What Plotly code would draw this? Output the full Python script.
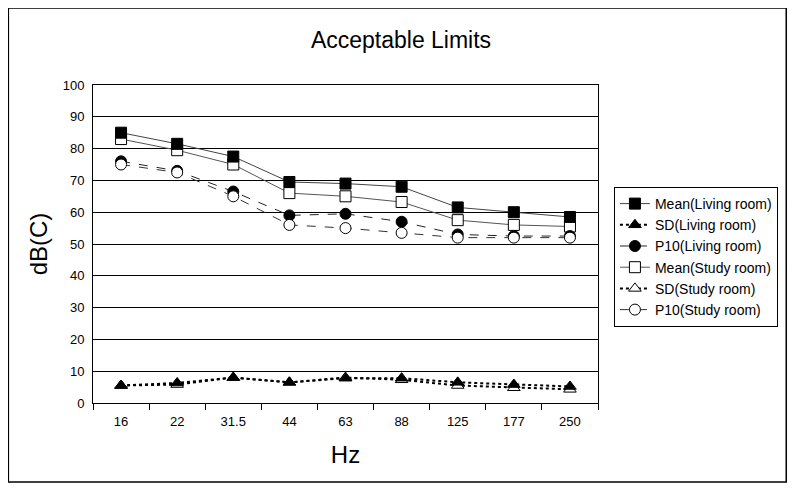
import plotly.graph_objects as go

hz = ["16", "22", "31.5", "44", "63", "88", "125", "177", "250"]

mean_living = [85, 81.5, 77.5, 69.5, 69, 68, 61.5, 60, 58.5]
sd_living = [5.5, 6.3, 8, 6.5, 7.8, 7.8, 6.5, 5.8, 5.2]
p10_living = [76, 73, 66.5, 59, 59.5, 57, 53, 52.5, 52.5]
mean_study = [83, 79.5, 75, 66, 65, 63.2, 57.5, 56, 55.5]
sd_study = [5.5, 5.8, 8, 6.5, 8, 7.3, 5.5, 4.8, 4.3]
p10_study = [75, 72.5, 65, 56, 55, 53.5, 52, 52, 52]

fig = go.Figure()

def add(name, y, dash, sym, fill, rank, color="black", lw=1):
    fig.add_trace(go.Scatter(
        x=hz, y=y, name=name, mode="lines+markers", legendrank=rank,
        line=dict(color=color, width=lw, dash=dash),
        marker=dict(symbol=sym, size=11, color=fill,
                    line=dict(color="black", width=1)),
    ))

# drawing order follows the overlaps in the original; legend order via legendrank
add("Mean(Study room)", mean_study, "solid", "square", "white", 4, "#555")
add("SD(Study room)", sd_study, "dot", "triangle-up", "white", 5, "black", 2)
add("Mean(Living room)", mean_living, "solid", "square", "black", 1, "#444")
add("SD(Living room)", sd_living, "dot", "triangle-up", "black", 2, "black", 2)
add("P10(Living room)", p10_living, "dash", "circle", "black", 3, "#222")
add("P10(Study room)", p10_study, "dash", "circle", "white", 6, "#333")

# page is drawn with an 8px body offset; figure covers 8..790 x 8..483
OX, OY = 8, 8
FW, FH = 782, 475
L, R, T, B = 93 - OX, 600 - OX, 85 - OY, 403 - OY
W, H = R - L, B - T

def px(x):
    return (x - OX - L) / W

def py(y):
    return (B - (y - OY)) / H

fig.add_shape(type="rect", xref="paper", yref="paper",
              x0=-L / W, x1=(FW - L - 1) / W, y0=-(FH - B - 1) / H, y1=(T) / H + 1,
              line=dict(color="black", width=1.5), layer="below")

fig.update_layout(
    width=FW, height=FH,
    margin=dict(l=L, r=FW - R, t=T, b=FH - B),
    paper_bgcolor="white", plot_bgcolor="white",
    font=dict(family="Liberation Sans, Arial, sans-serif", color="black", size=13),
    title=dict(text="Acceptable Limits", x=(401 - OX) / FW, xanchor="center",
               y=1 - (40 - OY) / FH, yanchor="middle", font=dict(size=23)),
    showlegend=True,
    legend=dict(x=px(616), xanchor="left", y=py(187), yanchor="top",
                bordercolor="black", borderwidth=1, bgcolor="white",
                font=dict(size=14), tracegroupgap=0),
)

fig.update_xaxes(
    type="category", range=[-0.5, 8.5],
    showline=True, linecolor="black", linewidth=1, mirror=True,
    ticks="outside", tickson="boundaries", ticklen=6, tickcolor="black",
    ticklabelstandoff=6,
    showgrid=False,
    title=dict(text="Hz", font=dict(size=24), standoff=18),
)
fig.update_yaxes(
    range=[0, 100], dtick=10,
    showline=True, linecolor="black", linewidth=1, mirror=True,
    showgrid=True, gridcolor="black", gridwidth=1,
    ticks="", zeroline=False, ticklabelstandoff=5,
    title=dict(text="dB(C)", font=dict(size=24), standoff=8),
)

fig.write_html("out.html")
